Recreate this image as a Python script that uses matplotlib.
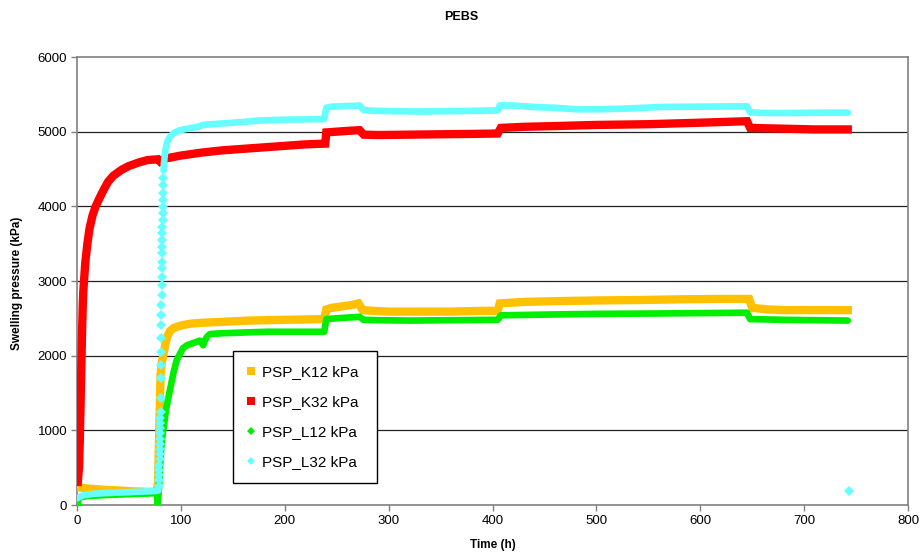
import matplotlib
matplotlib.use("Agg")
import matplotlib.pyplot as plt
from matplotlib.lines import Line2D

plt.rcParams['font.family'] = ['Liberation Sans', 'DejaVu Sans']

# ---- PSP_K12 kPa ----
k12_t = [0.5, 5, 10, 20, 30, 40, 50, 60, 70, 76, 77.5, 78, 78.5, 79, 79.5, 80, 80.5,
         81.5, 83, 85, 87, 89.5, 93, 97, 102, 110, 120, 135, 150, 165, 183, 200, 220,
         238, 240, 245, 255, 265, 271, 275, 285, 300, 330, 360, 390, 405, 407, 430,
         460, 503, 540, 583, 620, 647, 650, 665, 680, 710, 742]
k12_v = [240, 230, 220, 210, 200, 195, 185, 180, 175, 180, 250, 300, 600, 900, 1200,
         1500, 1750, 1900, 2000, 2150, 2260, 2330, 2370, 2390, 2410, 2430, 2440, 2450,
         2460, 2470, 2475, 2480, 2485, 2490, 2620, 2640, 2660, 2680, 2700, 2610, 2600,
         2590, 2590, 2590, 2600, 2600, 2700, 2720, 2730, 2740, 2745, 2755, 2760, 2760,
         2640, 2620, 2610, 2610, 2610]

# ---- PSP_K32 kPa ----
k32_t = [0.8, 1.2, 1.6, 2, 2.3, 2.6, 2.9, 3.2, 3.5, 3.8, 4.1, 4.4, 4.7, 5, 5.3, 5.6,
         6, 7, 8, 10, 12, 15, 18, 22, 26, 30, 35, 43, 50, 60, 68, 78, 80, 85, 100, 120,
         140, 160, 180, 200, 220, 239, 240, 250, 260, 272, 276, 290, 320, 350, 380,
         405, 408, 430, 460, 500, 550, 600, 645, 648, 680, 710, 742]
k32_v = [310, 380, 450, 520, 700, 800, 1000, 1200, 1400, 1600, 1800, 2000, 2200, 2400,
         2550, 2700, 2850, 3050, 3250, 3500, 3700, 3880, 4000, 4120, 4230, 4330, 4410,
         4490, 4540, 4590, 4620, 4630, 4600, 4640, 4680, 4720, 4750, 4770, 4790, 4810,
         4830, 4840, 4990, 5000, 5010, 5020, 4960, 4955, 4960, 4965, 4970, 4975, 5050,
         5065, 5075, 5090, 5100, 5120, 5140, 5050, 5040, 5030, 5030]

# ---- PSP_L12 kPa ----
l12_t = [0, 0.8, 1.5, 10, 30, 50, 70, 77, 77.6, 78.2, 79, 80, 81, 82, 83, 86, 89.5,
         93, 96, 99, 102, 106, 112, 118, 120, 121.5, 123, 125, 128, 140, 160, 183, 210,
         238, 240, 250, 260, 272, 276, 290, 320, 360, 405, 408, 450, 503, 560, 645,
         648, 680, 710, 742]
l12_v = [0, 0, 100, 120, 135, 145, 155, 160, 0, 90, 240, 500, 750, 900, 1000, 1300,
         1540, 1780, 1940, 2020, 2100, 2140, 2170, 2200, 2190, 2140, 2200, 2250, 2290,
         2300, 2310, 2320, 2320, 2320, 2490, 2500, 2510, 2520, 2480, 2475, 2470, 2475,
         2480, 2540, 2550, 2560, 2565, 2575, 2490, 2480, 2475, 2470]

# ---- PSP_L32 kPa ----
l32_early_t = [0.5, 2, 5, 8, 15, 25, 37, 50, 60, 75, 78.5]
l32_early_v = [90, 105, 125, 135, 148, 158, 165, 172, 178, 187, 195]
l32_rise_t = [79.0, 79.1, 79.2, 79.3, 79.4, 79.5, 79.6, 79.7, 79.8, 79.9, 80.0, 80.1,
              80.2, 80.3, 80.4, 80.5, 80.6, 80.8, 80.9, 81.0, 81.1, 81.2, 81.3, 81.4,
              81.5, 81.6, 81.7, 81.8, 81.9, 82.0, 82.1, 82.2, 82.3, 82.4, 82.5, 82.6,
              82.7, 82.8, 82.9, 83.0]
l32_rise_v = [250, 330, 400, 470, 540, 610, 680, 750, 820, 890, 960, 1030, 1100, 1170,
              1245, 1430, 1700, 1875, 2050, 2235, 2410, 2545, 2680, 2810, 2945, 3055,
              3175, 3255, 3375, 3455, 3550, 3640, 3720, 3815, 3910, 3990, 4085, 4180,
              4280, 4380]
l32_late_t = [83.3, 84, 85, 87, 89.5, 93, 99, 110, 118, 121, 140, 160, 176, 200, 220,
              238, 240, 245, 255, 265, 272, 276, 285, 300, 330, 360, 390, 405, 407, 420,
              440, 460, 480, 503, 530, 561, 600, 645, 648, 660, 690, 720, 742]
l32_late_v = [4480, 4620, 4750, 4870, 4930, 4980, 5020, 5050, 5070, 5090, 5110, 5130,
              5150, 5160, 5165, 5170, 5320, 5335, 5340, 5345, 5350, 5290, 5280, 5275,
              5270, 5275, 5280, 5285, 5350, 5350, 5330, 5320, 5300, 5300, 5310, 5330,
              5335, 5340, 5260, 5250, 5250, 5255, 5255]
l32_last_t = [743]
l32_last_v = [187]

series_names = ["PSP_K12 kPa", "PSP_K32 kPa", "PSP_L12 kPa", "PSP_L32 kPa"]
x_ticks = [0, 100, 200, 300, 400, 500, 600, 700, 800]
y_ticks = [0, 1000, 2000, 3000, 4000, 5000, 6000]

c_k12 = "#FFC000"
c_k32 = "#FF0000"
c_l12 = "#00EE00"
c_l32 = "#66FFFF"

fig = plt.figure(figsize=(9.21, 5.56), dpi=100)
ax = fig.add_axes([77 / 921, 51 / 556, 831 / 921, 448 / 556])

# densely sampled logger series: the overlapping markers read as a thick band
kw_k = dict(lw=6.0, solid_joinstyle="miter", solid_capstyle="projecting")
kw_l = dict(lw=4.8, solid_joinstyle="round", solid_capstyle="round")

ax.plot(k12_t, k12_v, color=c_k12, **kw_k, zorder=3)
ax.plot(k32_t, k32_v, color=c_k32, **kw_k, zorder=4)
ax.plot(l12_t, l12_v, color=c_l12, **kw_l, zorder=5)
ax.plot(l12_t[:2], l12_v[:2], color=c_l12, ls="none", marker="D", ms=5, mew=0, zorder=5)
ax.plot(l32_early_t, l32_early_v, color=c_l32, **kw_l, zorder=6)
ax.plot(l32_rise_t, l32_rise_v, color=c_l32, ls="none", marker="D", ms=5, mew=0, zorder=6)
ax.plot(l32_late_t, l32_late_v, color=c_l32, **kw_l, zorder=6)
ax.plot(l32_last_t, l32_last_v, color=c_l32, ls="none", marker="D", ms=5, mew=0, zorder=6)

ax.set_xlim(0, 800)
ax.set_ylim(0, 6000)
ax.set_xticks(x_ticks)
ax.set_yticks(y_ticks)
ax.tick_params(axis="both", direction="out", length=4, width=1, color="#808080",
               labelsize=9.5, labelcolor="black")
ax.tick_params(axis="x", pad=3)
ax.tick_params(axis="y", pad=3)

for y in y_ticks[1:-1]:
    ax.axhline(y, color="#222222", lw=0.9, zorder=1)
for s in ax.spines.values():
    s.set_color("#808080")
    s.set_linewidth(1.2)

handles = [
    Line2D([], [], ls="none", marker="s", ms=6, mew=0, color=c_k12),
    Line2D([], [], ls="none", marker="s", ms=6, mew=0, color=c_k32),
    Line2D([], [], ls="none", marker="D", ms=4.5, mew=0, color=c_l12),
    Line2D([], [], ls="none", marker="D", ms=4.5, mew=0, color=c_l32),
]
leg = ax.legend(handles, series_names, loc="lower left",
                bbox_to_anchor=(156 / 831, 22 / 448, 144 / 831, 140 / 448),
                mode="expand", fontsize=11, frameon=True, fancybox=False,
                edgecolor="black", framealpha=1, handlelength=0.6,
                handletextpad=0.4, labelspacing=1.05, borderpad=0.9,
                borderaxespad=0)
leg.get_frame().set_linewidth(1.0)
leg.set_zorder(10)

fig.text(461 / 921, 1 - 17 / 556, "PEBS", ha="center", va="center",
         fontsize=9, fontweight="bold")
fig.text(493 / 921, 1 - 545 / 556, "Time (h)", ha="center", va="center",
         fontsize=8.5, fontweight="bold")
fig.text(17 / 921, 1 - 283 / 556, "Swelling pressure (kPa)", ha="center",
         va="center", rotation=90, fontsize=8.5, fontweight="bold")

fig.savefig("out.png", dpi=100)
